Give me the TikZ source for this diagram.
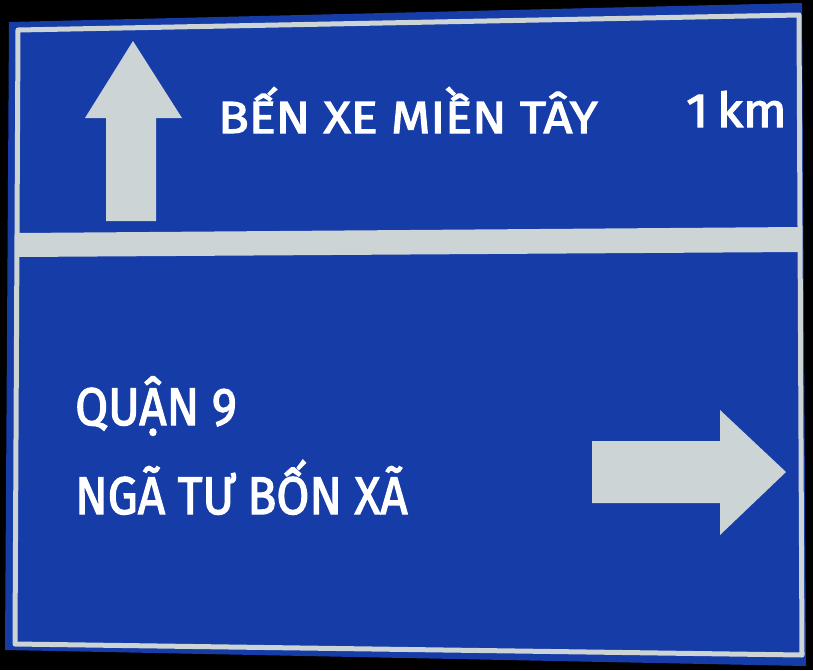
\documentclass[tikz,border=0pt]{standalone}
\usepackage{fontspec}
\usepackage{tikz}
\usetikzlibrary{positioning}
\setmainfont{Fira Sans}
\newfontfamily\signfont{Fira Sans}[FakeBold=2.5]
\definecolor{signblue}{RGB}{22,60,168}
\definecolor{signgrey}{RGB}{205,212,214}

\begin{document}
\begin{tikzpicture}[
    x=1pt, y=-1pt,
    place/.style={anchor=base west, inner sep=0pt, text=white, font=\signfont\fontsize{45}{45}\selectfont, xscale=1.12},
    lower/.style={anchor=base west, inner sep=0pt, text=white, font=\signfont\fontsize{53}{53}\selectfont, xscale=0.9},
    panel/.style={fill=signgrey, draw=none}
]
    \useasboundingbox (0,0) rectangle (813,670);
    \fill[black] (0,0) rectangle (813,670);
    % sign plate
    \fill[signblue] (9,22) -- (802,3) -- (806,666) -- (5,650) -- cycle;
    \draw[signgrey, line width=5pt, line join=round] (18,30) -- (799,15) -- (802,655) -- (15,644) -- cycle;
    \fill[panel] (18,233) -- (800,227) -- (800,252) -- (18,257) -- cycle;

    % arrows
    \fill[panel] (133,41) -- (182,118) -- (156,118) -- (156,221) -- (106,221) -- (106,118) -- (85,118) -- cycle;
    \fill[panel] (592,441) -- (720,441) -- (720,410) -- (786,472) -- (720,535) -- (720,503) -- (592,503) -- cycle;

    % texts
    \node[place] (benxe) at (218,133) {BẾN XE MIỀN TÂY};
    \node[place, font=\signfont\fontsize{48}{48}\selectfont, xscale=0.95] (dist) at (686,127) {1\,km};
    \node[lower] (quan) at (75,425) {QUẬN 9};
    \node[lower] (nga) at (75,514) {NGÃ TƯ BỐN XÃ};
\end{tikzpicture}
\end{document}
